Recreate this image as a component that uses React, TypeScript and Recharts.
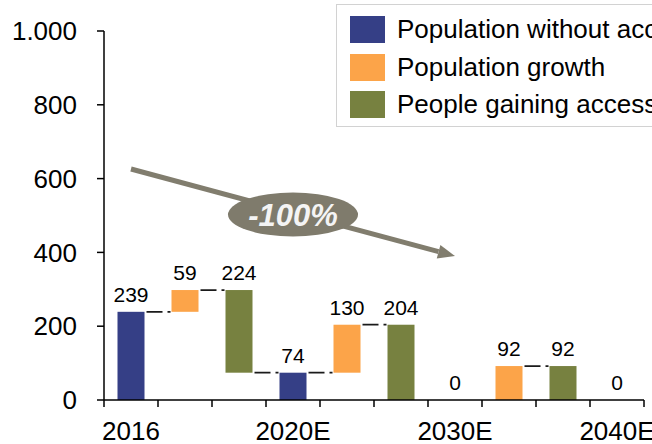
import {
  Bar,
  BarChart,
  Cell,
  LabelList,
  Legend,
  ReferenceLine,
  XAxis,
  YAxis,
} from "recharts";

const CHART_W = 652;
const CHART_H = 444;
const MARGIN = { top: 31, right: 8, bottom: 0, left: 0 };
const Y_AXIS_W = 104;
const X_AXIS_H = 44;
const FONT = "'Liberation Sans', Arial, sans-serif";

const BLUE = "#353f86";
const ORANGE = "#fca449";
const GREEN = "#778140";
const ARROW_GRAY = "#817d6e";

// one band per step of the waterfall
const categories = ["s2016", "g1", "a1", "s2020", "g2", "a2", "s2030", "g3", "a3", "s2040"];
const tickLabels = ["2016", "", "", "2020E", "", "", "2030E", "", "", "2040E"];
const barBase = [0, 239, 74, 0, 74, 0, 0, 0, 0, 0];
const barValue = [239, 59, 224, 74, 130, 204, 0, 92, 92, 0];
const barKind = ["stock", "growth", "access", "stock", "growth", "access", "stock", "growth", "access", "stock"];
// where the dashed connector to the next bar leaves this bar
const connectors = ["top", "top", "bottom", "top", "top", null, null, "top", null, null];

const yTicks = [0, 200, 400, 600, 800, 1000];

const legendNames = ["Population without access", "Population growth", "People gaining access"];
const legendColors = [BLUE, ORANGE, GREEN];

const arrowFrom = { cat: categories[0], value: 626 };
const arrowTo = { cat: categories[6], value: 390 };
const arrowLabel = "-100%";

const kindColor: Record<string, string> = { stock: BLUE, growth: ORANGE, access: GREEN };

const data = categories.map((key, i) => ({
  key,
  base: barBase[i],
  value: barValue[i],
  link: connectors[i],
  color: kindColor[barKind[i]],
}));

const PLOT_W = CHART_W - MARGIN.left - MARGIN.right - Y_AXIS_W;
const BAND = PLOT_W / categories.length;

function fmtThousands(v: number) {
  return v >= 1000 ? `${Math.floor(v / 1000)}.${String(v % 1000).padStart(3, "0")}` : `${v}`;
}

function CategoryTick(props: any) {
  const { x, y, payload } = props;
  const idx = categories.indexOf(payload.value);
  const left = x - BAND / 2;
  const right = x + BAND / 2;
  return (
    <g>
      <line x1={left} x2={left} y1={y} y2={y + 7} stroke="#000" strokeWidth={1.5} />
      {idx === categories.length - 1 && (
        <line x1={right} x2={right} y1={y} y2={y + 7} stroke="#000" strokeWidth={1.5} />
      )}
      <text x={x} y={y + 22} dy="0.71em" textAnchor="middle" fontSize={26} fill="#000">
        {tickLabels[idx]}
      </text>
    </g>
  );
}

function WaterfallBar(props: any) {
  const { x, y, width, height, fill, payload } = props;
  const link = payload?.link;
  const ly = link === "bottom" ? y + height : y;
  return (
    <g>
      {height > 0 && <rect x={x} y={y} width={width} height={height} fill={fill} />}
      {link && (
        <line
          x1={x + width + 2}
          x2={x + 2 * width - 1}
          y1={ly}
          y2={ly}
          stroke="#1a1a1a"
          strokeWidth={1.8}
          strokeDasharray="16 5"
        />
      )}
    </g>
  );
}

function ArrowShape(props: any) {
  const { x1, y1, x2, y2 } = props;
  const dx = x2 - x1;
  const dy = y2 - y1;
  const len = Math.sqrt(dx * dx + dy * dy);
  const ux = dx / len;
  const uy = dy / len;
  const headLen = 17;
  const headHalf = 7;
  const bx = x2 - ux * headLen;
  const by = y2 - uy * headLen;
  const mx = (x1 + x2) / 2;
  const my = (y1 + y2) / 2 + 2;
  return (
    <g>
      <line x1={x1} y1={y1} x2={bx} y2={by} stroke={ARROW_GRAY} strokeWidth={5} />
      <polygon
        points={`${x2},${y2} ${bx - uy * headHalf},${by + ux * headHalf} ${bx + uy * headHalf},${by - ux * headHalf}`}
        fill={ARROW_GRAY}
      />
      <ellipse cx={mx} cy={my} rx={65} ry={22} fill="#7f7b6c" />
      <text
        x={mx}
        y={my}
        dy="0.36em"
        textAnchor="middle"
        fontSize={31}
        fontWeight="bold"
        fontStyle="italic"
        fill="#f4f4f4"
      >
        {arrowLabel}
      </text>
    </g>
  );
}

function LegendBox() {
  return (
    <div
      style={{
        border: "1.5px solid #d2d2d2",
        background: "#fff",
        padding: "6px 0 2px 13px",
        width: 420,
        whiteSpace: "nowrap",
        fontFamily: FONT,
      }}
    >
      {legendNames.map((name, i) => (
        <div key={name} style={{ display: "flex", alignItems: "center", height: 37.5 }}>
          <span
            style={{
              width: 35,
              height: 27,
              flexShrink: 0,
              background: legendColors[i],
              display: "inline-block",
            }}
          />
          <span style={{ marginLeft: 12, fontSize: 26, color: "#000", flexShrink: 0 }}>{name}</span>
        </div>
      ))}
    </div>
  );
}

export default function App() {
  return (
    <div
      style={{
        position: "absolute",
        left: 0,
        top: 0,
        width: CHART_W,
        height: CHART_H,
        overflow: "hidden",
        background: "#fff",
        fontFamily: FONT,
      }}
    >
      <BarChart width={CHART_W} height={CHART_H} data={data} margin={MARGIN} barCategoryGap="25%">
        <XAxis
          dataKey="key"
          height={X_AXIS_H}
          interval={0}
          tickSize={0}
          tickMargin={0}
          tickLine={false}
          axisLine={{ stroke: "#000", strokeWidth: 1.5 }}
          tick={<CategoryTick />}
        />
        <YAxis
          width={Y_AXIS_W}
          domain={[0, 1000]}
          ticks={yTicks}
          tickSize={7}
          tickMargin={20}
          tickFormatter={fmtThousands}
          axisLine={{ stroke: "#000", strokeWidth: 1.5 }}
          tickLine={{ stroke: "#000", strokeWidth: 1.5 }}
          tick={{ fontSize: 26, fill: "#000" }}
        />
        <Legend
          layout="vertical"
          align="center"
          verticalAlign="middle"
          content={() => <LegendBox />}
          wrapperStyle={{ left: 336, top: 4, width: 420 }}
        />
        <Bar dataKey="base" stackId="w" fill="transparent" isAnimationActive={false} />
        <Bar dataKey="value" stackId="w" shape={WaterfallBar} isAnimationActive={false}>
          {data.map((d) => (
            <Cell key={d.key} fill={d.color} />
          ))}
          <LabelList dataKey="value" position="top" offset={10} fontSize={21} fill="#000" />
        </Bar>
        <ReferenceLine
          segment={[
            { x: arrowFrom.cat, y: arrowFrom.value },
            { x: arrowTo.cat, y: arrowTo.value },
          ]}
          ifOverflow="visible"
          shape={ArrowShape}
        />
      </BarChart>
    </div>
  );
}
